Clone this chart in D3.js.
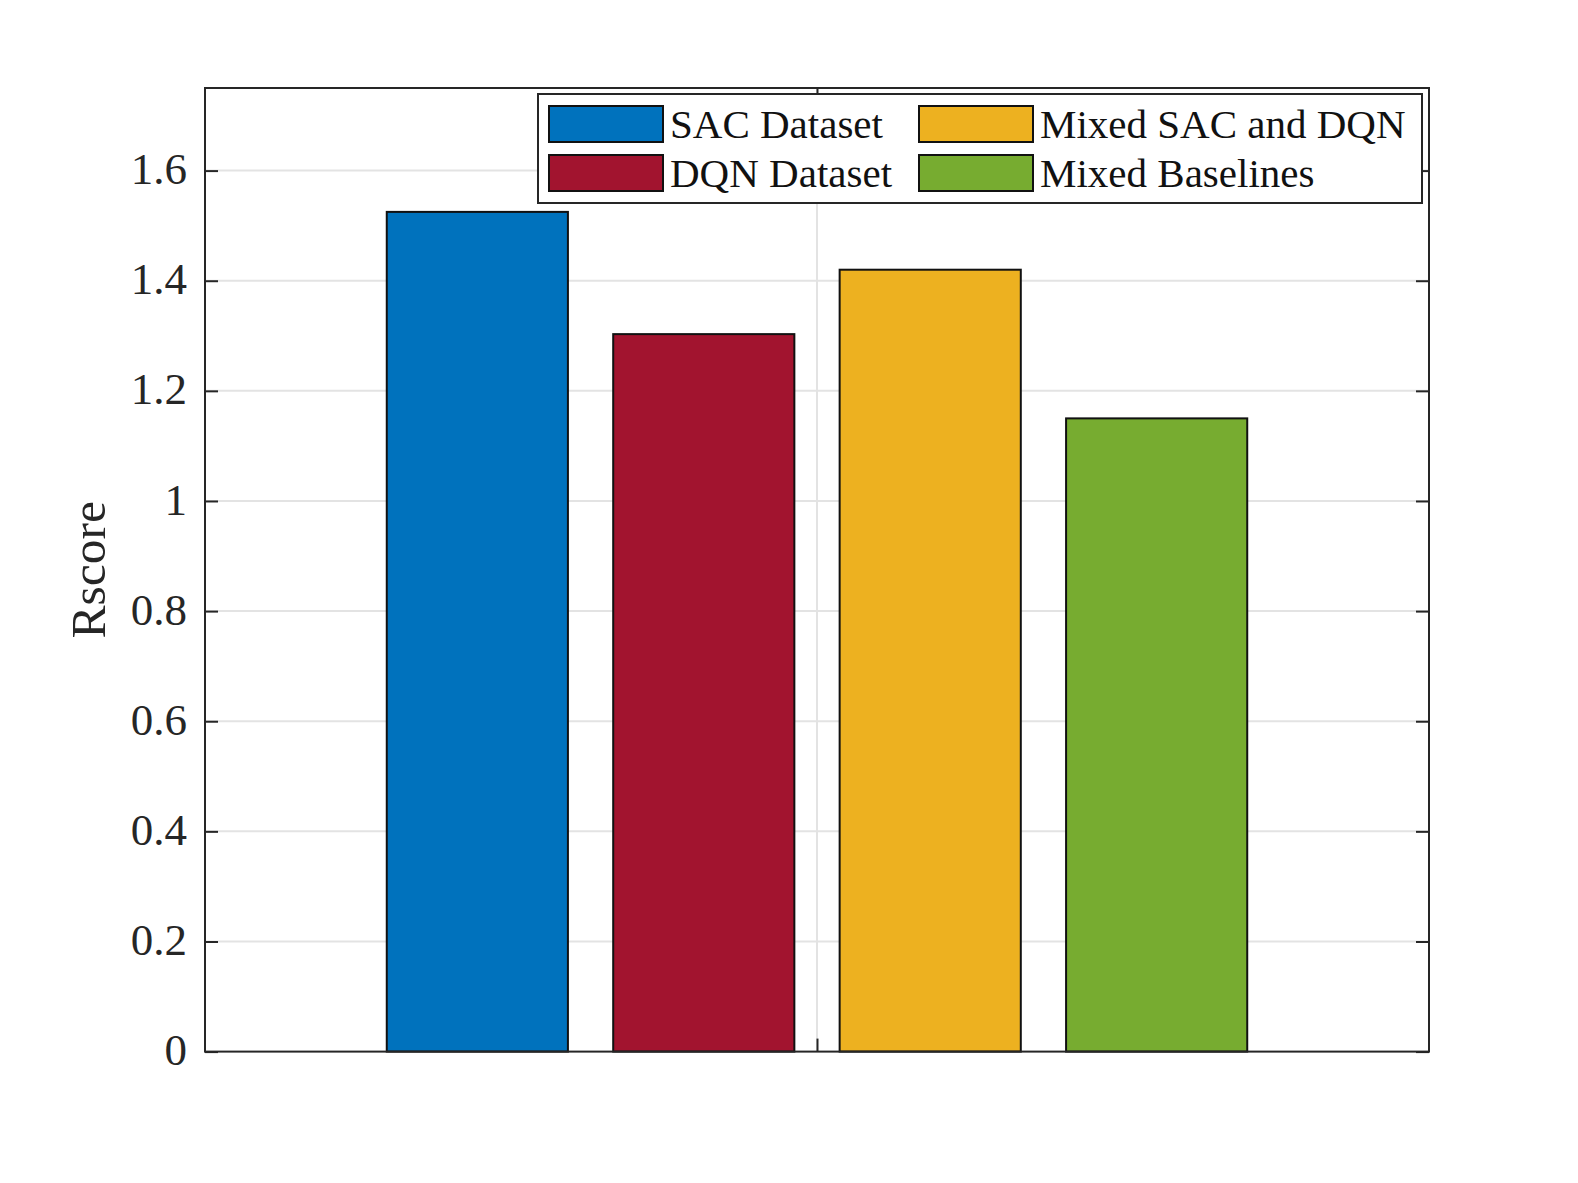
<!DOCTYPE html>
<html>
<head>
<meta charset="utf-8">
<script src="https://cdn.jsdelivr.net/npm/d3@7"></script>
<style>
  html, body { margin: 0; padding: 0; background: #ffffff; }
  svg { display: block; }
</style>
</head>
<body>
<script>
// ---- Data ----
const seriesNames = ["SAC Dataset", "DQN Dataset", "Mixed SAC and DQN", "Mixed Baselines"];
const seriesValues = [1.525, 1.303, 1.42, 1.15];
const seriesColors = ["#0072BD", "#A2142F", "#EDB120", "#77AC30"];
const yTicks = [0, 0.2, 0.4, 0.6, 0.8, 1, 1.2, 1.4, 1.6];
const yLabel = "Rscore";

// ---- Layout ----
const W = 1578, H = 1183;
const plot = { left: 205, right: 1429, top: 88, bottom: 1051.6 };
const axisColor = "#262626";
const gridColor = "#e3e3e3";
const font = "'Liberation Serif', 'Times New Roman', serif";

const svg = d3.select("body").append("svg").attr("width", W).attr("height", H);

const x = d3.scaleLinear().domain([0.5, 1.5]).range([plot.left, plot.right]);
const y = d3.scaleLinear().domain([0, 1.75]).range([plot.bottom, plot.top]);
const band = d3.scaleBand().domain(seriesNames)
  .range([x(0.63), x(1.37)]).paddingInner(0.2).paddingOuter(0.1);

// Grid
const grid = svg.append("g");
grid.selectAll("line.h").data(yTicks.filter(d => d > 0)).join("line")
  .attr("x1", plot.left).attr("x2", plot.right)
  .attr("y1", d => y(d)).attr("y2", d => y(d))
  .attr("stroke", gridColor).attr("stroke-width", 2);
grid.append("line")
  .attr("x1", x(1)).attr("x2", x(1)).attr("y1", plot.top).attr("y2", plot.bottom)
  .attr("stroke", gridColor).attr("stroke-width", 2);

// Bars
svg.append("g").selectAll("rect").data(seriesNames).join("rect")
  .attr("x", d => band(d))
  .attr("width", band.bandwidth())
  .attr("y", (d, i) => y(seriesValues[i]))
  .attr("height", (d, i) => y(0) - y(seriesValues[i]))
  .attr("fill", (d, i) => seriesColors[i])
  .attr("stroke", "#111")
  .attr("stroke-width", 2);

// Axes (ticks inside)
const tickLen = 13;
const yAxisL = d3.axisLeft(y).tickValues(yTicks).tickSize(-tickLen).tickPadding(18)
  .tickFormat(d => String(d));
const gL = svg.append("g").attr("transform", `translate(${plot.left},0)`).call(yAxisL);
gL.select(".domain").remove();
gL.selectAll(".tick line").attr("stroke", axisColor).attr("stroke-width", 2);
gL.selectAll(".tick text").attr("fill", axisColor)
  .style("font-family", font).style("font-size", "45px").attr("dy", "0.29em");

const yAxisR = d3.axisRight(y).tickValues(yTicks).tickSize(-tickLen).tickFormat("");
const gR = svg.append("g").attr("transform", `translate(${plot.right},0)`).call(yAxisR);
gR.select(".domain").remove();
gR.selectAll(".tick line").attr("stroke", axisColor).attr("stroke-width", 2);

const xAxisB = d3.axisBottom(x).tickValues([1]).tickSize(-tickLen).tickFormat("");
const gB = svg.append("g").attr("transform", `translate(0,${plot.bottom})`).call(xAxisB);
gB.select(".domain").remove();
gB.selectAll(".tick line").attr("stroke", axisColor).attr("stroke-width", 2);

const xAxisT = d3.axisTop(x).tickValues([1]).tickSize(-tickLen).tickFormat("");
const gT = svg.append("g").attr("transform", `translate(0,${plot.top})`).call(xAxisT);
gT.select(".domain").remove();
gT.selectAll(".tick line").attr("stroke", axisColor).attr("stroke-width", 2);

// Box
svg.append("rect")
  .attr("x", plot.left).attr("y", plot.top)
  .attr("width", plot.right - plot.left).attr("height", plot.bottom - plot.top)
  .attr("fill", "none").attr("stroke", axisColor).attr("stroke-width", 2);

// Y label
svg.append("text")
  .attr("transform", `translate(105,${(plot.top + plot.bottom) / 2}) rotate(-90)`)
  .attr("text-anchor", "middle")
  .attr("fill", axisColor)
  .style("font-family", font).style("font-size", "49.5px")
  .text(yLabel);

// Legend
const leg = svg.append("g");
leg.append("rect")
  .attr("x", 538).attr("y", 94).attr("width", 884).attr("height", 109)
  .attr("fill", "#fff").attr("stroke", axisColor).attr("stroke-width", 2);
const colX = [549, 919];
const rowY = [106, 155];
seriesNames.forEach((name, i) => {
  const col = i < 2 ? 0 : 1;
  const row = i % 2;
  leg.append("rect")
    .attr("x", colX[col]).attr("y", rowY[row]).attr("width", 114).attr("height", 36)
    .attr("fill", seriesColors[i]).attr("stroke", "#111").attr("stroke-width", 2);
  leg.append("text")
    .attr("x", colX[col] + 121).attr("y", rowY[row] + 18).attr("dy", "0.34em")
    .attr("fill", "#111")
    .style("font-family", font).style("font-size", "41px")
    .text(name);
});
</script>
</body>
</html>
